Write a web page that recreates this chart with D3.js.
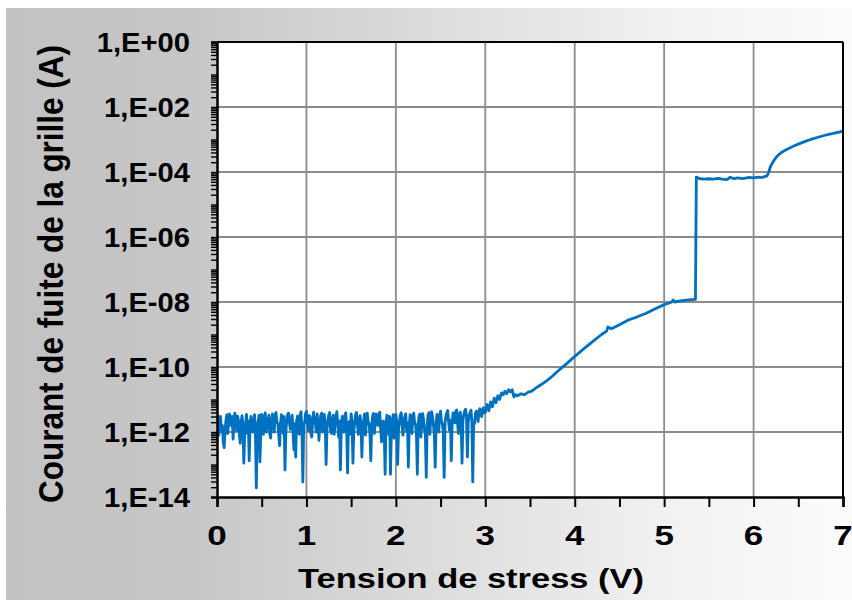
<!DOCTYPE html>
<html>
<head>
<meta charset="utf-8">
<script src="https://cdn.jsdelivr.net/npm/d3@7"></script>
<style>
  html, body { margin: 0; padding: 0; background: #fff; }
  svg { display: block; }
  text { font-family: "Liberation Sans", Arial, Helvetica, sans-serif; font-weight: bold; fill: #000; }
</style>
</head>
<body>
<svg id="chart" width="852" height="606"></svg>
<script>
// Gate leakage current measured during the voltage ramp.
// Low-voltage part: noise-floor readings on a 0.01 V sweep grid starting at 0 V.
const sweepStart = 0;
const sweepStep = 0.01;
const noiseCurrent = [
  1.9e-12, 3.1e-12, 8.0e-13, 1.9e-12, 3.0e-12, 1.0e-12, 1.6e-12, 5.0e-13, 3.3e-13, 1.1e-12, 2.3e-12, 3.4e-12, 9.0e-13, 2.1e-12, 3.6e-12, 1.6e-12, 1.8e-12, 3.0e-12, 6.0e-13, 2.0e-12,
  3.8e-12, 1.8e-12, 1.1e-12, 3.1e-12, 2.3e-12, 8.5e-13, 4.5e-13, 2.0e-12, 3.2e-12, 1.6e-12, 1.1e-13, 1.0e-12, 1.9e-12, 3.5e-12, 9.0e-13, 2.2e-12, 1.3e-13, 1.7e-12, 3.0e-12, 1.2e-12,
  1.0e-12, 2.3e-12, 3.4e-12, 7.0e-13, 1.9e-14, 1.8e-12, 2.1e-12, 3.3e-12, 1.2e-13, 1.1e-12, 3.5e-12, 1.9e-12, 8.5e-13, 3.0e-12, 3.9e-12, 1.0e-12, 1.6e-12, 2.2e-12, 3.3e-12, 9.0e-13,
  6.5e-13, 2.1e-12, 3.6e-12, 1.7e-12, 1.0e-12, 3.2e-12, 4.0e-12, 2.0e-12, 1.8e-12, 8.5e-13, 3.8e-13, 1.8e-12, 3.4e-12, 2.2e-12, 9.0e-13, 3.0e-12, 6.8e-14, 1.0e-12, 2.2e-12, 3.5e-12,
  3.8e-12, 1.9e-12, 1.2e-12, 2.3e-12, 3.3e-12, 1.0e-12, 2.8e-13, 1.8e-12, 1.7e-13, 2.1e-12, 3.1e-12, 1.6e-12, 8.5e-13, 3.4e-12, 4.2e-12, 1.1e-12, 2.9e-14, 1.8e-12, 1.9e-12, 3.7e-12,
  4.3e-12, 2.0e-12, 1.1e-12, 3.2e-12, 3.0e-12, 9.0e-13, 7.0e-13, 2.2e-12, 4.1e-12, 2.3e-12, 1.8e-12, 1.0e-12, 3.6e-12, 1.9e-12, 5.5e-13, 1.7e-12, 3.2e-12, 3.8e-12, 1.0e-12, 2.1e-12,
  3.5e-12, 1.8e-12, 1.0e-13, 1.2e-12, 2.2e-12, 3.4e-12, 4.0e-12, 1.1e-12, 9.0e-13, 2.3e-12, 3.3e-12, 8.5e-13, 1.7e-12, 3.1e-12, 4.2e-12, 1.8e-12, 7.0e-13, 2.2e-12, 6.8e-14, 1.6e-12,
  3.0e-12, 1.8e-12, 1.0e-12, 3.3e-12, 3.9e-12, 1.2e-12, 5.5e-14, 1.9e-12, 2.1e-12, 8.5e-13, 3.6e-12, 2.2e-12, 1.1e-13, 1.1e-12, 1.9e-12, 3.5e-12, 4.0e-12, 1.7e-12, 8.5e-13, 2.2e-12,
  3.2e-12, 1.6e-12, 1.7e-13, 1.8e-12, 2.3e-12, 3.6e-12, 8.0e-13, 1.8e-12, 3.8e-12, 2.1e-12, 1.8e-12, 9.0e-13, 1.3e-13, 1.6e-12, 3.1e-12, 3.7e-12, 9.0e-13, 1.9e-12, 3.6e-12, 2.3e-12,
  1.6e-12, 3.3e-12, 4.1e-12, 1.2e-12, 5.0e-13, 2.0e-12, 2.2e-12, 1.0e-12, 5.0e-14, 1.8e-12, 3.3e-12, 2.1e-12, 8.5e-13, 3.0e-12, 5.0e-14, 1.1e-12, 2.3e-12, 3.4e-12, 6.5e-13, 1.8e-12,
  3.5e-12, 2.2e-12, 1.0e-13, 1.2e-12, 2.0e-12, 3.3e-12, 3.9e-12, 1.6e-12, 8.0e-13, 2.1e-12, 3.0e-12, 3.6e-12, 1.1e-12, 1.9e-12, 8.3e-14, 1.7e-12, 3.4e-12, 2.2e-12, 9.0e-13, 3.1e-12,
  3.8e-12, 1.9e-12, 1.7e-12, 8.5e-13, 5.0e-14, 1.8e-12, 3.1e-12, 3.6e-12, 7.0e-13, 2.0e-12, 3.7e-12, 2.3e-12, 1.2e-12, 8.0e-13, 4.0e-14, 1.6e-12, 3.3e-12, 3.9e-12, 8.5e-13, 2.2e-12,
  4.2e-12, 3.0e-12, 1.6e-12, 9.0e-13, 8.3e-14, 1.9e-12, 3.5e-12, 2.2e-12, 1.0e-12, 3.2e-12, 4.4e-12, 2.1e-12, 1.8e-12, 1.0e-12, 4.0e-14, 1.8e-12, 3.2e-12, 3.9e-12, 4.6e-12, 2.0e-12,
  1.1e-12, 2.3e-12, 1.3e-13, 1.9e-12, 3.9e-12, 3.1e-12, 1.9e-12, 4.3e-12, 4.8e-12, 1.8e-12, 9.0e-13, 3.4e-12, 4.1e-12, 2.1e-12, 1.1e-13, 2.2e-12, 3.6e-12, 4.5e-12, 5.0e-12, 3.0e-12,
  1.7e-13, 2.0e-12, 3.3e-12, 4.0e-12, 4.7e-12, 2.2e-12, 2.9e-14, 2.1e-12, 1.8e-12, 3.7e-12, 4.4e-12, 3.0e-12, 2.1e-12, 4.5e-12, 5.2e-12, 3.4e-12, 3.0e-12, 4.8e-12, 5.6e-12, 3.9e-12
];

// Ramp part: onset of conduction, soft breakdown plateau and hard breakdown.
const rampVoltage = [
  3.00, 3.02, 3.04, 3.06, 3.08, 3.10, 3.12, 3.14, 3.16, 3.18,
  3.20, 3.22, 3.24, 3.26, 3.28, 3.30, 3.32, 3.34, 3.36, 3.40,
  3.44, 3.48, 3.52, 3.56, 3.60, 3.65, 3.70, 3.75, 3.80, 3.85,
  3.90, 3.95, 4.00, 4.10, 4.20, 4.30, 4.36, 4.37, 4.39, 4.41,
  4.45, 4.50, 4.60, 4.70, 4.80, 4.90, 5.00, 5.08, 5.10, 5.12,
  5.20, 5.30, 5.35, 5.36, 5.40, 5.45, 5.50, 5.55, 5.60, 5.65,
  5.70, 5.74, 5.78, 5.82, 5.88, 5.95, 6.00, 6.05, 6.10, 6.15,
  6.17, 6.19, 6.22, 6.26, 6.31, 6.37, 6.45, 6.52, 6.60, 6.71,
  6.80, 6.89, 7.00
];
const rampCurrent = [
  4.0e-12, 7.0e-12, 4.5e-12, 8.5e-12, 6.0e-12, 1.1e-11, 8.0e-12, 1.3e-11, 1.0e-11, 1.6e-11,
  1.4e-11, 1.8e-11, 1.5e-11, 2.0e-11, 1.7e-11, 2.0e-11, 1.2e-11, 1.4e-11, 1.3e-11, 1.5e-11,
  1.4e-11, 1.7e-11, 1.8e-11, 2.2e-11, 2.6e-11, 3.2e-11, 4.0e-11, 5.2e-11, 7.0e-11, 9.2e-11,
  1.2e-10, 1.6e-10, 2.1e-10, 3.6e-10, 6.0e-10, 1.0e-9, 1.3e-9, 1.7e-9, 1.6e-9, 1.5e-9,
  1.7e-9, 2.0e-9, 2.8e-9, 3.5e-9, 4.5e-9, 6.2e-9, 8.3e-9, 9.8e-9, 1.15e-8, 1.0e-8,
  1.1e-8, 1.18e-8, 1.2e-8, 7.0e-5, 6.2e-5, 6.0e-5, 6.2e-5, 6.0e-5, 6.4e-5, 6.0e-5,
  5.8e-5, 6.9e-5, 6.2e-5, 6.6e-5, 6.3e-5, 6.8e-5, 6.6e-5, 6.9e-5, 6.8e-5, 7.6e-5,
  1.0e-4, 1.5e-4, 2.1e-4, 3.0e-4, 4.0e-4, 4.9e-4, 6.3e-4, 7.6e-4, 9.2e-4, 1.15e-3,
  1.35e-3, 1.55e-3, 1.8e-3
];

const xTickValues = [0, 1, 2, 3, 4, 5, 6, 7];
const xTickLabels = ["0", "1", "2", "3", "4", "5", "6", "7"];
const xMinorTicks = [0.5, 1.5, 2.5, 3.5, 4.5, 5.5, 6.5];
const yTickValues = [1, 1e-2, 1e-4, 1e-6, 1e-8, 1e-10, 1e-12, 1e-14];
const yTickLabels = ["1,E+00", "1,E-02", "1,E-04", "1,E-06", "1,E-08", "1,E-10", "1,E-12", "1,E-14"];
const xTitle = "Tension de stress (V)";
const yTitle = "Courant de fuite de la grille (A)";

// Assemble the series as [voltage, current] pairs.
const series = noiseCurrent.map((c, i) => [sweepStart + i * sweepStep, c])
  .concat(rampVoltage.map((v, i) => [v, rampCurrent[i]]));

const svg = d3.select("#chart");
const plot = { left: 217, right: 843, top: 42, bottom: 497 };

const x = d3.scaleLinear().domain([0, 7]).range([plot.left, plot.right]);
const y = d3.scaleLog().domain([1e-14, 1]).range([plot.bottom, plot.top]);

// Panel background: grey on the left fading to white on the right.
const defs = svg.append("defs");
const grad = defs.append("linearGradient").attr("id", "bg").attr("x1", "0").attr("x2", "1").attr("y1", "0").attr("y2", "0");
[[0, "#c2c2c2"], [0.22, "#c7c7c7"], [0.5, "#dcdcdc"], [0.78, "#f1f1f1"], [1, "#fcfcfc"]]
  .forEach(([o, c]) => grad.append("stop").attr("offset", o).attr("stop-color", c));
svg.append("rect").attr("x", 6).attr("y", 8).attr("width", 846).attr("height", 592).attr("fill", "url(#bg)");

defs.append("clipPath").attr("id", "plotClip").append("rect")
  .attr("x", plot.left).attr("y", plot.top)
  .attr("width", plot.right - plot.left).attr("height", plot.bottom - plot.top);

// Plot area
svg.append("rect").attr("x", plot.left).attr("y", plot.top)
  .attr("width", plot.right - plot.left).attr("height", plot.bottom - plot.top).attr("fill", "#fff");

// Gridlines
const grid = svg.append("g").attr("stroke", "#8c8c8c").attr("stroke-width", 1.8);
grid.selectAll("line.v").data(xTickValues.slice(1, -1)).join("line").attr("class", "v")
  .attr("x1", d => x(d)).attr("x2", d => x(d)).attr("y1", plot.top).attr("y2", plot.bottom);
grid.selectAll("line.h").data(yTickValues.slice(1, -1)).join("line").attr("class", "h")
  .attr("x1", plot.left).attr("x2", plot.right).attr("y1", d => y(d)).attr("y2", d => y(d));

// Data line
const line = d3.line().x(d => x(d[0])).y(d => y(d[1]));
svg.append("path").datum(series)
  .attr("clip-path", "url(#plotClip)")
  .attr("fill", "none").attr("stroke", "#0070c0").attr("stroke-width", 2.8)
  .attr("stroke-linejoin", "round").attr("stroke-linecap", "round")
  .attr("d", line);

// Frame
const frame = svg.append("g").attr("stroke", "#000").attr("fill", "none");
frame.append("line").attr("x1", plot.left).attr("x2", plot.right).attr("y1", plot.top).attr("y2", plot.top).attr("stroke-width", 2);
frame.append("line").attr("x1", plot.right).attr("x2", plot.right).attr("y1", plot.top).attr("y2", plot.bottom).attr("stroke-width", 2);

// Y axis with logarithmic minor ticks
const yMinor = [];
for (let e = -14; e < 0; e++) for (let k = 2; k <= 9; k++) yMinor.push(k * Math.pow(10, e));
const yAxis = d3.axisLeft(y).tickValues(yTickValues.concat(yMinor).concat([1e-1, 1e-3, 1e-5, 1e-7, 1e-9, 1e-11, 1e-13]))
  .tickSize(6).tickFormat("");
const gy = svg.append("g").attr("transform", `translate(${plot.left},0)`).call(yAxis);
gy.select(".domain").attr("stroke", "#000").attr("stroke-width", 2.5);
gy.selectAll(".tick line").attr("stroke", "#000").attr("stroke-width", 1.4);

// X axis
const xAxis = d3.axisBottom(x).tickValues(xTickValues.concat(xMinorTicks)).tickSize(10).tickFormat("");
const gx = svg.append("g").attr("transform", `translate(0,${plot.bottom})`).call(xAxis);
gx.select(".domain").attr("stroke", "#000").attr("stroke-width", 2.5);
gx.selectAll(".tick line").attr("stroke", "#000").attr("stroke-width", 2);

// Widen glyphs horizontally to the lettering width of the axis labels.
function widen(sel, factor) {
  sel.each(function () {
    const w = this.getComputedTextLength();
    d3.select(this).attr("textLength", w * factor).attr("lengthAdjust", "spacingAndGlyphs");
  });
}

// Tick labels
const yl = svg.append("g").selectAll("text").data(yTickValues).join("text")
  .attr("x", 190).attr("y", d => y(d) + 9.5)
  .attr("text-anchor", "end").attr("font-size", 27)
  .text((d, i) => yTickLabels[i]);
widen(yl, 1.08);

const xl = svg.append("g").selectAll("text").data(xTickValues).join("text")
  .attr("x", d => x(d)).attr("y", 545)
  .attr("text-anchor", "middle").attr("font-size", 28)
  .text((d, i) => xTickLabels[i]);
widen(xl, 1.25);

// Axis titles
const xt = svg.append("text").attr("x", 471).attr("y", 588).attr("text-anchor", "middle")
  .attr("font-size", 28).text(xTitle);
xt.attr("textLength", 346).attr("lengthAdjust", "spacingAndGlyphs");

const yt = svg.append("text")
  .attr("transform", "translate(63,274) scale(1.2,1) rotate(-90)")
  .attr("text-anchor", "middle").attr("font-size", 29).text(yTitle);
yt.attr("textLength", 458).attr("lengthAdjust", "spacingAndGlyphs");
</script>
</body>
</html>
